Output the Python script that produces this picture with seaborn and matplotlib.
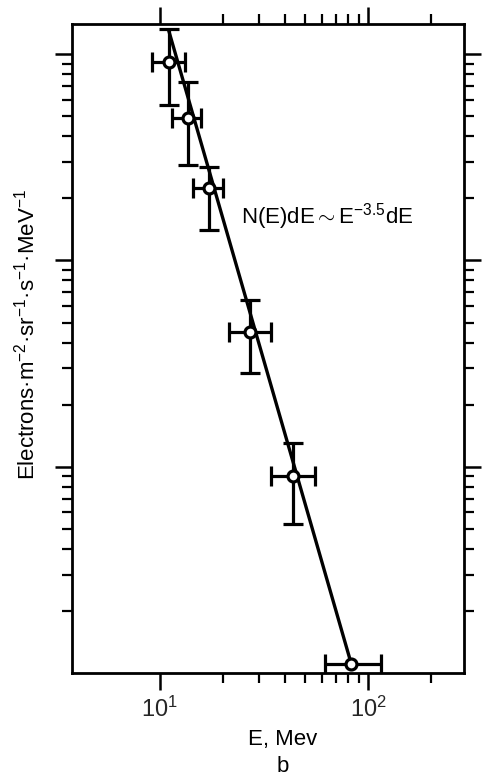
import numpy as np
import pandas as pd
import matplotlib
matplotlib.use("Agg")
import matplotlib.pyplot as plt
import seaborn as sns
from matplotlib.ticker import FixedLocator, FixedFormatter, NullFormatter

# Measured electron spectrum (energy in MeV, differential flux)
energy = [11.05, 13.6, 17.2, 27.0, 43.4, 83.2]
flux = [91.5, 49.1, 22.5, 4.49, 0.897, 0.110]
energy_lo = [9.15, 11.4, 14.4, 21.4, 34.1, 61.9]
energy_hi = [13.2, 15.7, 20.0, 34.0, 55.5, 114.8]
# vertical uncertainties exist for the first five points only
flux_lo = [56.5, 28.9, 14.1, 2.84, 0.527]
flux_hi = [132.0, 73.5, 28.4, 6.40, 1.31]

# Power-law fit N(E) ~ E^index, drawn down to the highest-energy point
spectral_index = -3.5
fit_flux_top = 130.0

x_ticks = [10, 100]
x_tick_labels = [r"$10^1$", r"$10^2$"]
x_minor = [20, 30, 40, 50, 60, 70, 80, 90, 200]
y_major = [1, 10, 100]
y_minor = [m * d for d in (0.1, 1, 10) for m in range(2, 10)]

sns.set_theme(style="ticks")
plt.rcParams["font.family"] = ["Liberation Sans", "DejaVu Sans"]
plt.rcParams["mathtext.fontset"] = "custom"
plt.rcParams["mathtext.rm"] = "Liberation Sans"
plt.rcParams["mathtext.it"] = "Liberation Sans:italic"
plt.rcParams["mathtext.bf"] = "Liberation Sans:bold"

df = pd.DataFrame({"E": energy, "N": flux})

fig = plt.figure(figsize=(4.92, 7.78), dpi=100)
ax = fig.add_axes([72 / 492, 1 - 673 / 778, 392 / 492, 649 / 778])
ax.set_xscale("log")
ax.set_yscale("log")

# error bars
x_err = np.array([np.subtract(energy, energy_lo), np.subtract(energy_hi, energy)])
ax.errorbar(energy, flux, xerr=x_err, fmt="none", ecolor="black",
            elinewidth=2.3, capsize=7, capthick=2.3, zorder=2)
n_y = len(flux_lo)
y_err = np.array([np.subtract(flux[:n_y], flux_lo), np.subtract(flux_hi, flux[:n_y])])
ax.errorbar(energy[:n_y], flux[:n_y], yerr=y_err, fmt="none", ecolor="black",
            elinewidth=2.3, capsize=7, capthick=2.3, zorder=2)

# power-law line anchored at the last measured point
norm = flux[-1] / energy[-1] ** spectral_index
e_start = (fit_flux_top / norm) ** (1 / spectral_index)
fit = pd.DataFrame({"E": [e_start, energy[-1]]})
fit["N"] = norm * fit["E"] ** spectral_index
sns.lineplot(data=fit, x="E", y="N", ax=ax, color="black", linewidth=2.4,
             zorder=3, legend=False)

sns.scatterplot(data=df, x="E", y="N", ax=ax, marker="o", s=62,
                facecolor="white", edgecolor="black", linewidth=2.3,
                zorder=4, legend=False)

ax.set_xlim(3.78, 289)
ax.set_ylim(10 ** -1.0, 10 ** 2.146)

ax.xaxis.set_major_locator(FixedLocator(x_ticks))
ax.xaxis.set_major_formatter(FixedFormatter(x_tick_labels))
ax.xaxis.set_minor_locator(FixedLocator(x_minor))
ax.xaxis.set_minor_formatter(NullFormatter())
ax.yaxis.set_major_locator(FixedLocator(y_major))
ax.yaxis.set_minor_locator(FixedLocator(y_minor))
ax.yaxis.set_major_formatter(NullFormatter())
ax.yaxis.set_minor_formatter(NullFormatter())

ax.tick_params(which="both", direction="out", top=True, right=True,
               bottom=True, left=True, color="black")
ax.tick_params(which="major", length=12, width=1.8, labelsize=17, pad=5,
               labelleft=False, labelright=False, labeltop=False)
ax.tick_params(which="minor", length=7, width=1.6)
for sp in ax.spines.values():
    sp.set_linewidth(2.0)
    sp.set_color("black")

ax.set_xlabel("")
ax.set_ylabel("")

ax.text(0.431, 0.704, r"N(E)dE$\sim$E$^{-3.5}$dE", transform=ax.transAxes,
        ha="left", va="center", fontsize=16, color="black")

fig.text(283 / 492, 1 - 739 / 778, "E, Mev", ha="center", va="center",
         fontsize=16, color="black")
fig.text(283 / 492, 1 - 766 / 778, "b", ha="center", va="center",
         fontsize=16, color="black")
fig.text(27 / 492, 1 - 334 / 778,
         "Electrons·m$^{-2}$·sr$^{-1}$·s$^{-1}$·MeV$^{-1}$",
         rotation=90, ha="center", va="center", fontsize=16, color="black")

fig.savefig("out.png", dpi=100, facecolor="white")
